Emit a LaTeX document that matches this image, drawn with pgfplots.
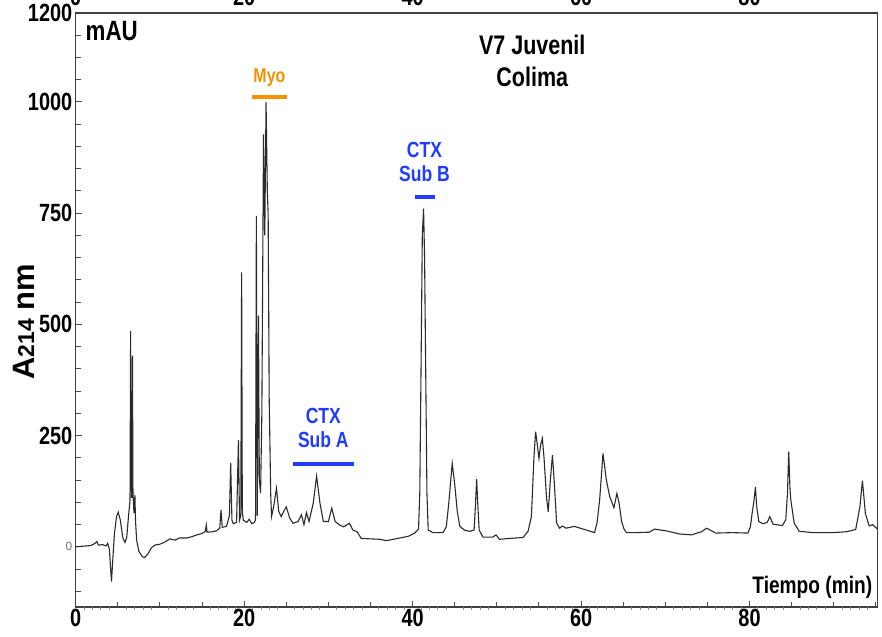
\documentclass[border=0pt]{standalone}
\usepackage{fontspec}
\usepackage{pgfplots}
\pgfplotsset{compat=1.18}
\setmainfont{Liberation Sans}
\newfontfamily\cond[FakeStretch=0.8]{Liberation Sans}
\definecolor{myo}{HTML}{F39200}
\definecolor{ctx}{HTML}{1F3CFF}
\definecolor{trace}{HTML}{2A2A2A}

\pgfplotstableread{
t a
0 0
0.5 1
1.2 2
1.8 3
2.3 8
2.5 12
2.7 4
3.2 5
3.6 2
3.8 8
4.0 -5
4.15 -50
4.25 -78
4.4 -30
4.6 30
4.85 68
5.05 78
5.3 60
5.6 20
5.85 10
6.05 20
6.3 75
6.45 105
6.52 485
6.58 150
6.66 110
6.74 430
6.8 120
6.92 76
7.03 117
7.1 60
7.23 16
7.5 -10
7.9 -22
8.2 -24
8.6 -15
9.0 -2
9.4 4
10.0 6
10.5 10
11.2 18
11.8 15
12.3 20
13.2 20
13.8 23
14.4 27
15.0 30
15.4 35
15.5 49
15.6 33
16.2 34
16.7 36
17.1 42
17.25 83
17.4 44
17.9 46
18.25 70
18.4 189
18.55 60
18.7 52
19.1 55
19.32 240
19.45 60
19.6 70
19.7 617
19.78 80
19.9 60
20.3 55
20.6 62
20.9 52
21.2 55
21.35 60
21.45 744
21.55 70
21.7 520
21.8 150
21.95 121
22.1 300
22.3 927
22.45 700
22.6 1000
22.75 800
22.85 748
22.97 337
23.15 120
23.25 68
23.5 90
23.84 132
24.1 80
24.4 68
24.7 80
25.0 90
25.4 65
25.8 53
26.4 57
26.8 72
27.1 50
27.4 77
27.7 57
28.2 98
28.6 159
29.0 98
29.4 57
30.0 57
30.4 87
30.8 57
31.35 49
31.8 45
32.5 53
32.9 38
33.4 34
33.9 19
35.0 18
36.1 17
36.9 14
37.7 17
38.5 20
39.5 24
40.25 31
40.7 40
40.85 120
41.0 404
41.15 700
41.3 760
41.42 650
41.55 404
41.7 120
41.85 38
42.4 32
43.6 32
44.0 45
44.3 100
44.7 188
45.0 140
45.3 80
45.6 46
46.2 37
46.8 35
47.3 38
47.45 90
47.6 152
47.75 90
47.9 38
48.35 22
49.5 22
49.9 27
50.3 17
51.5 19
53.1 21
53.7 35
54.1 68
54.4 200
54.6 259
54.8 230
55.0 199
55.2 230
55.4 244
55.6 200
55.9 110
56.1 79
56.35 150
56.6 206
56.8 150
57.1 53
57.45 42
57.8 47
58.2 42
59.2 46
60.6 38
61.6 32
61.9 55
62.2 105
62.6 210
63.0 150
63.4 113
63.9 88
64.25 120
64.5 100
64.8 58
65.1 40
65.4 32
66.5 32
68.1 33
68.7 40
70.1 36
71.7 29
73.1 27
74.3 34
74.9 42
75.5 36
76.0 31
78.0 32
79.8 31
80.1 45
80.3 75
80.5 100
80.7 135
80.85 90
81.1 57
81.6 52
82.1 55
82.4 68
82.8 51
83.9 48
84.3 61
84.5 120
84.65 214
84.8 130
84.9 105
85.3 53
85.9 35
87.5 32
89.9 32
91.5 34
92.6 39
93.1 90
93.4 149
93.75 75
94.2 47
94.6 50
95.2 40
}\trace

\begin{document}
\begin{tikzpicture}
\pgfplotsset{
  common/.style={
    scale only axis,
    width=401bp, height=297bp,
    at={(0,0)}, anchor=south west,
    xmin=0, xmax=95.2,
    ymin=-135, ymax=1200,
    axis line style={black!75, line width=0.6pt},
    /pgf/number format/assume math mode=true,
    ticklabel style={font=\cond\bfseries\fontsize{12.5}{13}\selectfont, black},
  }
}
\begin{axis}[
    common,
    xtick={0,20,40,60,80},
    minor xtick={5,10,15,25,30,35,45,50,55,65,70,75,85,90,95},
    extra x ticks={1,2,3,4,6,7,8,9,11,12,13,14,16,17,18,19,21,22,23,24,26,27,28,29,31,32,33,34,36,37,38,39,41,42,43,44,46,47,48,49,51,52,53,54,56,57,58,59,61,62,63,64,66,67,68,69,71,72,73,74,76,77,78,79,81,82,83,84,86,87,88,89,91,92,93,94},
    extra x tick labels={},
    extra x tick style={major tick length=1.5pt, tick style={black!45}, tick align=outside},
    xtick pos=bottom,
    xticklabel style={inner sep=0.5pt, yshift=-0.5bp},
    ytick={0,250,500,750,1000,1200},
    yticklabels={{\normalfont\mdseries\fontsize{6}{6}\selectfont\color{black!55}0},250,500,750,1000,1200},
    minor ytick={-100,-50,50,100,150,200,300,350,400,450,550,600,650,700,800,850,900,950,1050,1100,1150},
    ytick pos=left,
    yticklabel style={inner sep=1.5pt},
    tick style={black!70, line width=0.5pt},
    major tick length=3pt, minor tick length=2.5pt,
    tick align=inside,
    ylabel={\bfseries\fontsize{15.5}{15.5}\selectfont A{\fontsize{11.5}{11.5}\selectfont 214} nm},
    ylabel style={at={(axis description cs:-0.043,0.48)}, anchor=south},
    clip=false,
]
\addplot[trace, line width=0.55pt] table[x=t, y=a] {\trace};

\addplot[myo, line width=2pt] coordinates {(20.9,1011) (25.1,1011)};
\addplot[ctx, line width=2pt] coordinates {(40.3,787) (42.6,787)};
\addplot[ctx, line width=2pt] coordinates {(25.8,186) (33.0,186)};

\node[anchor=west, font=\cond\bfseries\fontsize{14}{14}\selectfont] at (axis cs:0.35,1160) {mAU};
\node[align=center, font=\cond\bfseries\fontsize{13.5}{16}\selectfont] at (axis cs:54.2,1092) {V7 Juvenil\\Colima};
\node[font=\cond\bfseries\fontsize{10}{10}\selectfont, text=myo] at (axis cs:23.0,1054) {Myo};
\node[align=center, font=\cond\bfseries\fontsize{11}{12}\selectfont, text=ctx] at (axis cs:41.4,865) {CTX\\Sub B};
\node[align=center, font=\cond\bfseries\fontsize{11}{12}\selectfont, text=ctx] at (axis cs:29.4,268) {CTX\\Sub A};
\node[anchor=east, inner sep=0pt, font=\cond\bfseries\fontsize{12}{13}\selectfont] at (axis cs:94.6,-92) {Tiempo (min)};
\end{axis}

\begin{axis}[
    common,
    axis x line*=top,
    hide y axis,
    xtick={0,20,40,60,80},
    major tick length=0pt,
    xticklabel pos=right,
]
\end{axis}

\pgfresetboundingbox
\path (-37.85bp,-15bp) rectangle (403.2bp,303.5bp);
\end{tikzpicture}
\end{document}
